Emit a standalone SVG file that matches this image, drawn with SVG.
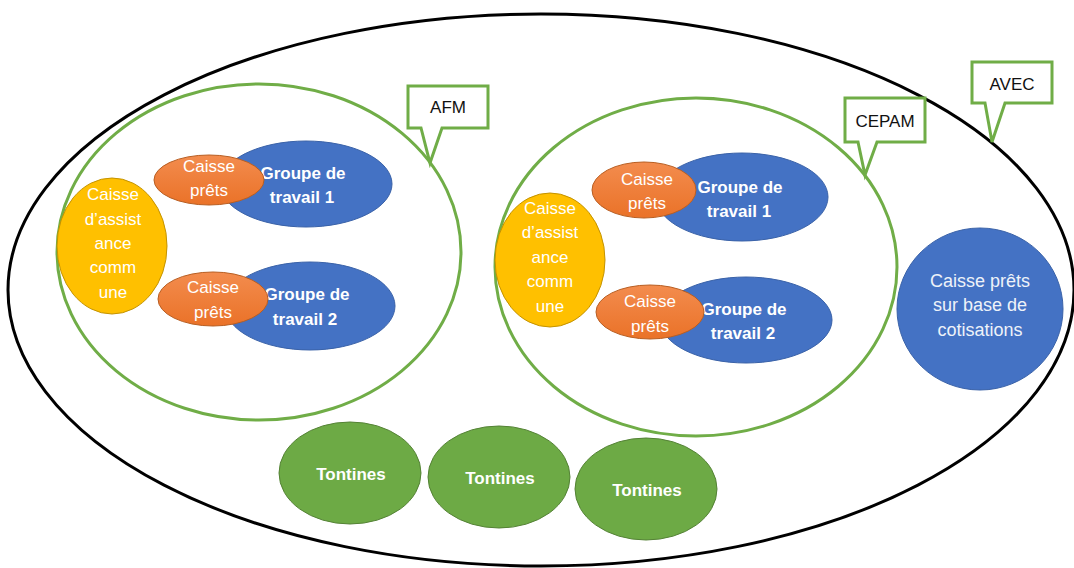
<svg xmlns="http://www.w3.org/2000/svg" width="1074" height="568" viewBox="0 0 1074 568">
<defs>
<linearGradient id="og" x1="0" y1="0" x2="0" y2="1">
<stop offset="0" stop-color="#F38C4E"/>
<stop offset="1" stop-color="#EA7228"/>
</linearGradient>
</defs>
<style>
text{font-family:"Liberation Sans",Arial,sans-serif;text-anchor:middle}
.w{fill:#fff;font-size:17px}
.wb{fill:#fff;font-size:17px;font-weight:bold}
.lbl{fill:#111;font-size:17px}
.blue{fill:#4472C4;stroke:#3A62A8;stroke-width:1}
.orange{fill:url(#og);stroke:#B85E22;stroke-width:1}
.yellow{fill:#FFC000;stroke:#C49300;stroke-width:1}
.green{fill:#6DAA45;stroke:#548235;stroke-width:1}
.ring{fill:none;stroke:#70AD47;stroke-width:3}
.call{fill:#fff;stroke:#70AD47;stroke-width:3;stroke-linejoin:miter}
</style>
<rect width="1074" height="568" fill="#fff"/>
<g id="avec-ellipse"><ellipse cx="541" cy="290" rx="533" ry="276" fill="none" stroke="#000" stroke-width="3"/></g>
<g id="afm-circle"><ellipse cx="259" cy="252" rx="202" ry="168" class="ring"/></g>
<g id="cepam-circle"><ellipse cx="696" cy="267" rx="201" ry="169" class="ring"/></g>

<g id="afm-caisse-assistance">
<ellipse cx="112" cy="246" rx="55" ry="68" class="yellow"/>
<text class="w" x="113" y="200">Caisse</text>
<text class="w" x="113" y="225">d’assist</text>
<text class="w" x="113" y="249">ance</text>
<text class="w" x="113" y="273">comm</text>
<text class="w" x="113" y="298">une</text>
</g>
<g id="afm-groupe1">
<ellipse cx="306" cy="184" rx="86" ry="43" class="blue"/>
<text class="wb" x="303" y="179">Groupe de</text>
<text class="wb" x="302" y="203">travail 1</text>
</g>
<g id="afm-caisse-prets1">
<ellipse cx="209" cy="180" rx="55" ry="25" class="orange"/>
<text class="w" x="209" y="172">Caisse</text>
<text class="w" x="209" y="196">prêts</text>
</g>
<g id="afm-groupe2">
<ellipse cx="310" cy="306" rx="85" ry="44" class="blue"/>
<text class="wb" x="307" y="300">Groupe de</text>
<text class="wb" x="305" y="325">travail 2</text>
</g>
<g id="afm-caisse-prets2">
<ellipse cx="213" cy="299" rx="55" ry="27" class="orange"/>
<text class="w" x="213" y="293">Caisse</text>
<text class="w" x="213" y="318">prêts</text>
</g>

<g id="cepam-caisse-assistance">
<ellipse cx="550" cy="260" rx="55" ry="67" class="yellow"/>
<text class="w" x="550" y="214">Caisse</text>
<text class="w" x="550" y="238">d’assist</text>
<text class="w" x="550" y="263">ance</text>
<text class="w" x="550" y="287">comm</text>
<text class="w" x="550" y="312">une</text>
</g>
<g id="cepam-groupe1">
<ellipse cx="742" cy="197" rx="86" ry="44" class="blue"/>
<text class="wb" x="740" y="193">Groupe de</text>
<text class="wb" x="739" y="217">travail 1</text>
</g>
<g id="cepam-caisse-prets1">
<ellipse cx="644" cy="190" rx="52" ry="28" class="orange"/>
<text class="w" x="647" y="185">Caisse</text>
<text class="w" x="647" y="209">prêts</text>
</g>
<g id="cepam-groupe2">
<ellipse cx="746" cy="320" rx="86" ry="43" class="blue"/>
<text class="wb" x="744" y="315">Groupe de</text>
<text class="wb" x="743" y="339">travail 2</text>
</g>
<g id="cepam-caisse-prets2">
<ellipse cx="650" cy="312" rx="54" ry="27" class="orange"/>
<text class="w" x="650" y="307">Caisse</text>
<text class="w" x="650" y="332">prêts</text>
</g>

<g id="caisse-cotisations">
<ellipse cx="980" cy="309" rx="83" ry="81" class="blue"/>
<text class="w" style="font-size:18px;fill:#EEF2F9" x="980" y="287">Caisse prêts</text>
<text class="w" style="font-size:18px;fill:#EEF2F9" x="980" y="311">sur base de</text>
<text class="w" style="font-size:18px;fill:#EEF2F9" x="980" y="336">cotisations</text>
</g>

<g id="tontines1">
<ellipse cx="350" cy="473" rx="71" ry="51" class="green"/>
<text class="wb" x="351" y="480">Tontines</text>
</g>
<g id="tontines2">
<ellipse cx="499" cy="477" rx="71" ry="51" class="green"/>
<text class="wb" x="500" y="484">Tontines</text>
</g>
<g id="tontines3">
<ellipse cx="646" cy="489" rx="71" ry="51" class="green"/>
<text class="wb" x="647" y="496">Tontines</text>
</g>

<g id="callout-afm">
<path class="call" d="M408,86 H488 V128 H442 L430,163 L421,128 H408 Z"/>
<text class="lbl" x="448" y="113">AFM</text>
</g>
<g id="callout-cepam">
<path class="call" d="M845,98 H925 V142 H877 L865,175 L858,142 H845 Z"/>
<text class="lbl" x="885" y="127">CEPAM</text>
</g>
<g id="callout-avec">
<path class="call" d="M972,62 H1052 V103 H1005 L992,142 L985,103 H972 Z"/>
<text class="lbl" x="1012" y="90">AVEC</text>
</g>
<g id="connectors"></g>
</svg>
